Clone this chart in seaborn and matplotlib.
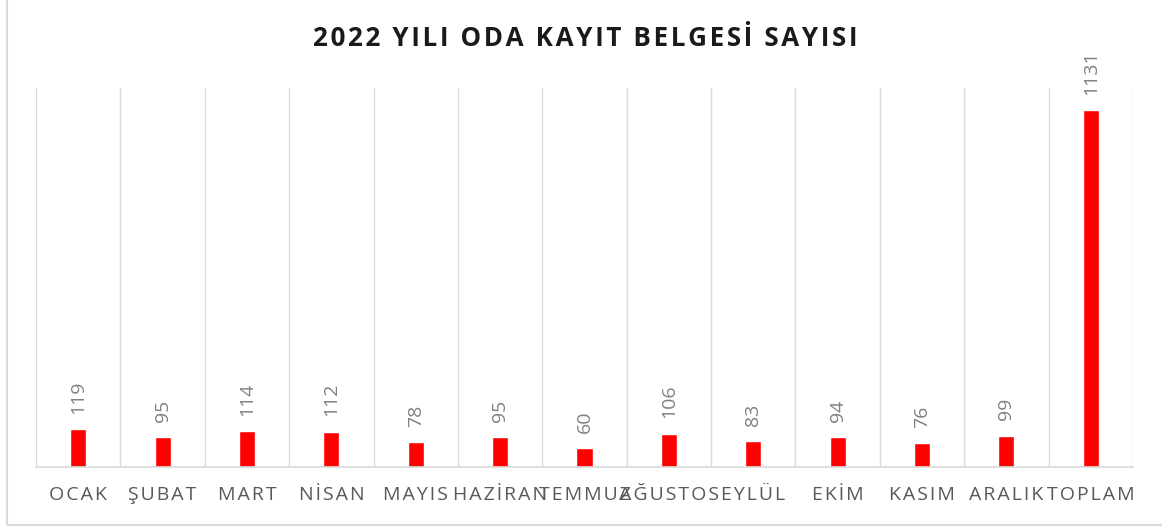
import numpy as np
import pandas as pd
import matplotlib
matplotlib.use('Agg')
import matplotlib.pyplot as plt
import seaborn as sns
from matplotlib.patches import Rectangle

months = ['OCAK', 'ŞUBAT', 'MART', 'NİSAN', 'MAYIS', 'HAZİRAN', 'TEMMUZ',
          'AĞUSTOS', 'EYLÜL', 'EKİM', 'KASIM', 'ARALIK', 'TOPLAM']
counts = [119, 95, 114, 112, 78, 95, 60, 106, 83, 94, 76, 99, 1131]
title = '2022 YILI ODA KAYIT BELGESİ SAYISI'

sns.set_style('white')
plt.rcParams['font.family'] = ['Open Sans', 'DejaVu Sans']

def spaced(s, sep='\u2009'):
    return sep.join(s)

df = pd.DataFrame({'ay': months, 'sayi': counts})

fig = plt.figure(figsize=(11.62, 5.29), dpi=100)
ax = fig.add_axes([36/1162, 62/529, (1133-36)/1162, (467-88)/529])

sns.barplot(data=df, x='ay', y='sayi', color='#ff0000', saturation=1,
            width=0.19, ax=ax)

ax.set_ylim(0, 1200)
ax.set_xlim(-0.5, len(months) - 0.5)
ax.set_yticks([])
ax.set_xlabel('')
ax.set_ylabel('')

ax.set_xticks(np.arange(-0.5, len(months), 1), minor=True)
ax.set_xticks(range(len(months)))
ax.set_xticklabels([spaced(m, '\u200a') for m in months], fontsize=14, color='#595959')
ax.tick_params(axis='x', which='both', length=0, pad=14)
ax.grid(True, axis='x', which='minor', color='#d9d9d9', linewidth=1)
ax.grid(False, axis='x', which='major')
for s in ['top', 'left', 'right']:
    ax.spines[s].set_visible(False)
ax.spines['bottom'].set_color('#d9d9d9')
ax.spines['bottom'].set_linewidth(1.2)

for i, v in enumerate(counts):
    ax.annotate(str(v), (i, v), xytext=(0, 11), textcoords='offset points',
                rotation=90, ha='center', va='bottom', fontsize=14,
                color='#808080', annotation_clip=False)

fig.text(585/1162, 1 - 38/529, spaced(title, '\u200a'), ha='center', va='center',
         fontsize=18.7, fontweight='bold', color='#1a1a1a')

fig.patches.append(Rectangle((7/1162, 4/529), 1.2, 1.2, transform=fig.transFigure,
                             fill=False, edgecolor='#d9d9d9', linewidth=1.5))

fig.savefig('out.png', dpi=100)
